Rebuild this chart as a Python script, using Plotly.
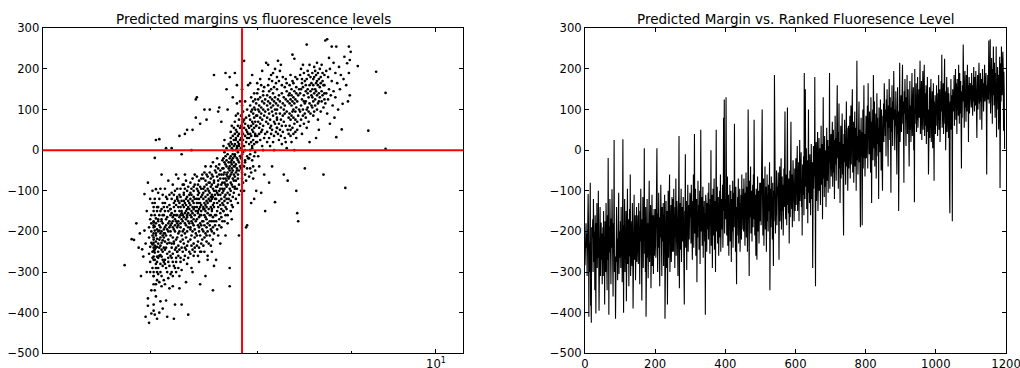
import plotly.graph_objects as go

# ---------------- data ----------------
# fluorescence level of each sample (log axis), listed in increasing order
fluor = [
    # ranks 0-49
    6.78, 6.84, 6.86, 6.88, 6.90, 6.91, 6.92, 6.93, 6.94, 6.95,
    6.95, 6.96, 6.96, 6.97, 6.97, 6.98, 6.98, 6.98, 6.99, 6.99,
    6.99, 6.99, 7.00, 7.00, 7.00, 7.00, 7.00, 7.01, 7.01, 7.01,
    7.01, 7.01, 7.01, 7.02, 7.02, 7.02, 7.02, 7.02, 7.02, 7.02,
    7.03, 7.03, 7.03, 7.03, 7.03, 7.03, 7.03, 7.03, 7.03, 7.03,
    # ranks 50-99
    7.03, 7.03, 7.03, 7.03, 7.03, 7.03, 7.03, 7.03, 7.03, 7.03,
    7.04, 7.04, 7.04, 7.04, 7.04, 7.04, 7.04, 7.04, 7.04, 7.04,
    7.04, 7.04, 7.05, 7.05, 7.05, 7.05, 7.05, 7.05, 7.05, 7.05,
    7.05, 7.05, 7.05, 7.05, 7.06, 7.06, 7.06, 7.06, 7.06, 7.06,
    7.06, 7.06, 7.06, 7.06, 7.07, 7.07, 7.07, 7.07, 7.07, 7.07,
    # ranks 100-149
    7.07, 7.07, 7.07, 7.07, 7.08, 7.08, 7.08, 7.08, 7.08, 7.08,
    7.08, 7.08, 7.08, 7.08, 7.09, 7.09, 7.09, 7.09, 7.09, 7.09,
    7.09, 7.09, 7.09, 7.09, 7.10, 7.10, 7.10, 7.10, 7.10, 7.10,
    7.10, 7.10, 7.10, 7.10, 7.11, 7.11, 7.11, 7.11, 7.11, 7.11,
    7.11, 7.11, 7.11, 7.11, 7.12, 7.12, 7.12, 7.12, 7.12, 7.12,
    # ranks 150-199
    7.12, 7.12, 7.13, 7.13, 7.13, 7.13, 7.13, 7.13, 7.13, 7.13,
    7.13, 7.13, 7.14, 7.14, 7.14, 7.14, 7.14, 7.14, 7.14, 7.14,
    7.15, 7.15, 7.15, 7.15, 7.15, 7.15, 7.15, 7.15, 7.16, 7.16,
    7.16, 7.16, 7.16, 7.16, 7.16, 7.16, 7.17, 7.17, 7.17, 7.17,
    7.17, 7.17, 7.17, 7.17, 7.18, 7.18, 7.18, 7.18, 7.18, 7.18,
    # ranks 200-249
    7.18, 7.18, 7.19, 7.19, 7.19, 7.19, 7.19, 7.19, 7.19, 7.19,
    7.19, 7.20, 7.20, 7.20, 7.20, 7.20, 7.20, 7.20, 7.20, 7.20,
    7.21, 7.21, 7.21, 7.21, 7.21, 7.21, 7.21, 7.21, 7.21, 7.22,
    7.22, 7.22, 7.22, 7.22, 7.22, 7.22, 7.22, 7.22, 7.23, 7.23,
    7.23, 7.23, 7.23, 7.23, 7.23, 7.23, 7.23, 7.24, 7.24, 7.24,
    # ranks 250-299
    7.24, 7.24, 7.24, 7.24, 7.24, 7.24, 7.25, 7.25, 7.25, 7.25,
    7.25, 7.25, 7.25, 7.25, 7.25, 7.26, 7.26, 7.26, 7.26, 7.26,
    7.26, 7.26, 7.26, 7.26, 7.27, 7.27, 7.27, 7.27, 7.27, 7.27,
    7.27, 7.27, 7.27, 7.28, 7.28, 7.28, 7.28, 7.28, 7.28, 7.28,
    7.28, 7.28, 7.29, 7.29, 7.29, 7.29, 7.29, 7.29, 7.29, 7.30,
    # ranks 300-349
    7.30, 7.30, 7.30, 7.30, 7.30, 7.30, 7.30, 7.30, 7.31, 7.31,
    7.31, 7.31, 7.31, 7.31, 7.31, 7.31, 7.31, 7.32, 7.32, 7.32,
    7.32, 7.32, 7.32, 7.32, 7.32, 7.32, 7.33, 7.33, 7.33, 7.33,
    7.33, 7.33, 7.33, 7.33, 7.33, 7.34, 7.34, 7.34, 7.34, 7.34,
    7.34, 7.34, 7.34, 7.34, 7.35, 7.35, 7.35, 7.35, 7.35, 7.36,
    # ranks 350-399
    7.36, 7.36, 7.36, 7.36, 7.36, 7.36, 7.36, 7.36, 7.37, 7.37,
    7.37, 7.37, 7.37, 7.37, 7.37, 7.37, 7.37, 7.38, 7.38, 7.38,
    7.38, 7.38, 7.38, 7.38, 7.38, 7.38, 7.39, 7.39, 7.39, 7.39,
    7.39, 7.39, 7.39, 7.39, 7.39, 7.40, 7.40, 7.40, 7.40, 7.40,
    7.40, 7.40, 7.40, 7.40, 7.41, 7.41, 7.41, 7.41, 7.41, 7.42,
    # ranks 400-449
    7.42, 7.42, 7.42, 7.42, 7.42, 7.42, 7.42, 7.42, 7.43, 7.43,
    7.43, 7.43, 7.43, 7.43, 7.43, 7.43, 7.43, 7.44, 7.44, 7.44,
    7.44, 7.44, 7.44, 7.44, 7.44, 7.44, 7.45, 7.45, 7.45, 7.45,
    7.45, 7.45, 7.45, 7.45, 7.45, 7.46, 7.46, 7.46, 7.46, 7.46,
    7.46, 7.46, 7.46, 7.46, 7.47, 7.47, 7.47, 7.47, 7.47, 7.48,
    # ranks 450-499
    7.48, 7.48, 7.48, 7.48, 7.48, 7.48, 7.48, 7.48, 7.49, 7.49,
    7.49, 7.49, 7.49, 7.49, 7.49, 7.49, 7.49, 7.50, 7.50, 7.50,
    7.50, 7.50, 7.50, 7.50, 7.50, 7.50, 7.51, 7.51, 7.51, 7.51,
    7.51, 7.51, 7.51, 7.51, 7.51, 7.52, 7.52, 7.52, 7.52, 7.52,
    7.52, 7.52, 7.52, 7.52, 7.53, 7.53, 7.53, 7.53, 7.53, 7.54,
    # ranks 500-549
    7.54, 7.54, 7.54, 7.54, 7.54, 7.54, 7.54, 7.54, 7.55, 7.55,
    7.55, 7.55, 7.55, 7.55, 7.55, 7.55, 7.55, 7.56, 7.56, 7.56,
    7.56, 7.56, 7.56, 7.56, 7.56, 7.56, 7.57, 7.57, 7.57, 7.57,
    7.57, 7.57, 7.57, 7.57, 7.57, 7.58, 7.58, 7.58, 7.58, 7.58,
    7.58, 7.58, 7.58, 7.58, 7.59, 7.59, 7.59, 7.59, 7.59, 7.60,
    # ranks 550-599
    7.60, 7.60, 7.60, 7.60, 7.60, 7.60, 7.60, 7.61, 7.61, 7.61,
    7.61, 7.61, 7.61, 7.61, 7.62, 7.62, 7.62, 7.62, 7.62, 7.62,
    7.62, 7.63, 7.63, 7.63, 7.63, 7.63, 7.63, 7.63, 7.64, 7.64,
    7.64, 7.64, 7.64, 7.64, 7.64, 7.65, 7.65, 7.65, 7.65, 7.65,
    7.65, 7.65, 7.66, 7.66, 7.66, 7.66, 7.66, 7.66, 7.66, 7.67,
    # ranks 600-649
    7.67, 7.67, 7.67, 7.67, 7.67, 7.67, 7.67, 7.67, 7.68, 7.68,
    7.68, 7.68, 7.68, 7.68, 7.68, 7.68, 7.68, 7.69, 7.69, 7.69,
    7.69, 7.69, 7.69, 7.69, 7.69, 7.69, 7.70, 7.70, 7.70, 7.70,
    7.70, 7.70, 7.70, 7.70, 7.70, 7.71, 7.71, 7.71, 7.71, 7.71,
    7.71, 7.71, 7.71, 7.71, 7.72, 7.72, 7.72, 7.72, 7.72, 7.73,
    # ranks 650-699
    7.73, 7.73, 7.73, 7.73, 7.73, 7.73, 7.73, 7.73, 7.73, 7.74,
    7.74, 7.74, 7.74, 7.74, 7.74, 7.74, 7.74, 7.74, 7.74, 7.75,
    7.75, 7.75, 7.75, 7.75, 7.75, 7.75, 7.75, 7.75, 7.75, 7.76,
    7.76, 7.76, 7.76, 7.76, 7.76, 7.76, 7.76, 7.76, 7.76, 7.77,
    7.77, 7.77, 7.77, 7.77, 7.77, 7.77, 7.77, 7.78, 7.78, 7.78,
    # ranks 700-749
    7.78, 7.78, 7.78, 7.78, 7.78, 7.78, 7.78, 7.78, 7.79, 7.79,
    7.79, 7.79, 7.79, 7.79, 7.79, 7.79, 7.79, 7.80, 7.80, 7.80,
    7.80, 7.80, 7.80, 7.80, 7.80, 7.80, 7.81, 7.81, 7.81, 7.81,
    7.81, 7.81, 7.81, 7.81, 7.81, 7.82, 7.82, 7.82, 7.82, 7.82,
    7.82, 7.82, 7.82, 7.82, 7.83, 7.83, 7.83, 7.83, 7.83, 7.84,
    # ranks 750-799
    7.84, 7.84, 7.84, 7.84, 7.84, 7.84, 7.85, 7.85, 7.85, 7.85,
    7.85, 7.85, 7.85, 7.85, 7.86, 7.86, 7.86, 7.86, 7.86, 7.86,
    7.87, 7.87, 7.87, 7.87, 7.87, 7.87, 7.88, 7.88, 7.88, 7.88,
    7.88, 7.88, 7.88, 7.89, 7.89, 7.89, 7.89, 7.89, 7.90, 7.90,
    7.90, 7.90, 7.90, 7.90, 7.91, 7.91, 7.91, 7.91, 7.92, 7.92,
    # ranks 800-849
    7.92, 7.92, 7.92, 7.92, 7.93, 7.93, 7.93, 7.93, 7.93, 7.93,
    7.93, 7.94, 7.94, 7.94, 7.94, 7.94, 7.94, 7.94, 7.95, 7.95,
    7.95, 7.95, 7.95, 7.95, 7.95, 7.96, 7.96, 7.96, 7.96, 7.96,
    7.96, 7.96, 7.97, 7.97, 7.97, 7.97, 7.97, 7.97, 7.97, 7.98,
    7.98, 7.98, 7.98, 7.98, 7.98, 7.98, 7.99, 7.99, 7.99, 7.99,
    # ranks 850-899
    7.99, 7.99, 8.00, 8.00, 8.00, 8.00, 8.00, 8.01, 8.01, 8.01,
    8.01, 8.01, 8.02, 8.02, 8.02, 8.02, 8.02, 8.03, 8.03, 8.03,
    8.03, 8.03, 8.04, 8.04, 8.04, 8.04, 8.04, 8.05, 8.05, 8.05,
    8.05, 8.05, 8.06, 8.06, 8.06, 8.06, 8.06, 8.07, 8.07, 8.07,
    8.07, 8.07, 8.08, 8.08, 8.08, 8.08, 8.09, 8.09, 8.10, 8.10,
    # ranks 900-949
    8.10, 8.10, 8.10, 8.11, 8.11, 8.11, 8.11, 8.11, 8.12, 8.12,
    8.12, 8.12, 8.12, 8.13, 8.13, 8.13, 8.13, 8.13, 8.14, 8.14,
    8.14, 8.14, 8.14, 8.15, 8.15, 8.15, 8.15, 8.15, 8.16, 8.16,
    8.16, 8.16, 8.16, 8.17, 8.17, 8.17, 8.17, 8.17, 8.18, 8.18,
    8.18, 8.18, 8.18, 8.19, 8.19, 8.19, 8.19, 8.20, 8.20, 8.20,
    # ranks 950-999
    8.20, 8.20, 8.20, 8.20, 8.21, 8.21, 8.21, 8.21, 8.22, 8.22,
    8.22, 8.22, 8.23, 8.23, 8.23, 8.23, 8.24, 8.24, 8.24, 8.24,
    8.25, 8.25, 8.25, 8.25, 8.26, 8.26, 8.26, 8.26, 8.27, 8.27,
    8.27, 8.27, 8.28, 8.28, 8.28, 8.28, 8.29, 8.29, 8.29, 8.29,
    8.30, 8.30, 8.30, 8.30, 8.31, 8.31, 8.31, 8.32, 8.32, 8.32,
    # ranks 1000-1049
    8.33, 8.33, 8.33, 8.33, 8.33, 8.34, 8.34, 8.34, 8.34, 8.34,
    8.35, 8.35, 8.35, 8.35, 8.35, 8.36, 8.36, 8.36, 8.36, 8.36,
    8.37, 8.37, 8.37, 8.37, 8.37, 8.38, 8.38, 8.38, 8.38, 8.38,
    8.39, 8.39, 8.39, 8.39, 8.39, 8.40, 8.40, 8.40, 8.40, 8.40,
    8.41, 8.41, 8.41, 8.41, 8.41, 8.42, 8.42, 8.42, 8.43, 8.43,
    # ranks 1050-1099
    8.44, 8.44, 8.44, 8.44, 8.45, 8.45, 8.45, 8.45, 8.46, 8.46,
    8.46, 8.46, 8.47, 8.47, 8.47, 8.47, 8.48, 8.48, 8.48, 8.48,
    8.49, 8.49, 8.49, 8.49, 8.50, 8.50, 8.50, 8.50, 8.51, 8.51,
    8.51, 8.51, 8.52, 8.52, 8.52, 8.52, 8.53, 8.53, 8.53, 8.53,
    8.54, 8.54, 8.54, 8.54, 8.55, 8.55, 8.55, 8.56, 8.56, 8.56,
    # ranks 1100-1149
    8.57, 8.57, 8.57, 8.57, 8.58, 8.58, 8.58, 8.58, 8.59, 8.59,
    8.59, 8.59, 8.60, 8.60, 8.60, 8.60, 8.61, 8.61, 8.61, 8.61,
    8.62, 8.62, 8.62, 8.62, 8.63, 8.63, 8.63, 8.63, 8.64, 8.64,
    8.64, 8.64, 8.65, 8.65, 8.65, 8.66, 8.66, 8.66, 8.67, 8.67,
    8.67, 8.68, 8.68, 8.68, 8.69, 8.69, 8.69, 8.70, 8.70, 8.70,
    # ranks 1150-1196
    8.70, 8.71, 8.71, 8.72, 8.72, 8.73, 8.73, 8.74, 8.74, 8.75,
    8.75, 8.76, 8.76, 8.77, 8.78, 8.78, 8.79, 8.80, 8.80, 8.81,
    8.82, 8.82, 8.83, 8.83, 8.84, 8.85, 8.86, 8.87, 8.88, 8.89,
    8.90, 8.91, 8.92, 8.93, 8.94, 8.95, 8.96, 8.97, 8.97, 8.98,
    8.98, 8.99, 9.07, 9.19, 9.28, 9.39, 9.39,
]

# predicted margin of each sample, same order as fluor
margin = [
    # ranks 0-49
    -283, -219, -221, -180, -240, -205, -310, -244, -262, -108,
    -198, -410, -230, -300, -150, -80, -383, -365, -425, -190,
    -255, -215, -170, -300, -120, -238, -275, -200, -345, -160,
    -228, -402, -180, -250, -130, -290, -210, -265, -100, -232,
    -395, -185, -248, -140, -310, -220, -178, -270, -205, -330,
    # ranks 50-99
    -240, -190, -310, -150, -262, -215, -380, -175, -228, -300,
    -130, -245, -198, -345, -160, -270, -19, -235, -405, -188,
    -252, -120, -290, -210, -330, -168, -240, -96, -280, -205,
    -360, -180, -225, 25, -300, -150, -262, -415, -195, -238,
    -140, -275, -218, -320, -170, -250, -105, -305, -200, -265,
    # ranks 100-149
    -230, -175, -290, -140, -260, -198, -325, -160, 27, -240,
    -400, -185, -220, -120, -300, -205, -258, -150, -372, -190,
    -235, -95, -280, -215, -170, -335, -228, -145, -262, -60,
    -310, -200, -245, -175, -285, -130, -222, -390, -180, -250,
    -110, -270, -210, -160, -320, -195, -240, -140, -275, -205,
    # ranks 150-199
    -215, -160, -280, -130, -245, -190, -330, -150, -225, -95,
    -270, -205, -370, -170, -240, -115, -290, -185, -210, 5,
    -255, -165, -300, -140, -410, -195, -230, -120, -265, -180,
    -315, -150, -220, -75, -275, -200, -250, -135, -340, -175,
    -228, -110, -285, -190, -160, -305, -210, -145, -260, -185,
    # ranks 200-249
    -200, -145, -265, -120, -230, 5, -180, -300, -155, -240,
    -105, -275, -190, -335, -165, -215, -85, -255, -175, -310,
    -140, -225, -195, -130, -285, -160, -230, -110, -415, -170,
    -245, -125, -290, -200, -150, -380, -185, -100, -265, -175,
    -220, -60, -300, -160, -240, -135, -275, -190, -115, -250,
    # ranks 250-299
    -180, -120, -250, -95, -215, -160, -290, -140, -205, -70,
    -260, -175, -125, -235, -185, -310, -150, -110, 35, -340,
    -200, -130, -245, -165, -95, -275, -180, -140, -225, -160,
    -115, -265, -190, -380, -150, -210, -10, -240, -170, -125,
    -295, -155, -200, -85, -250, -175, -135, -220, -160, -105,
    # ranks 300-349
    -165, -110, -230, -85, -195, -140, -270, -125, -180, -60,
    -240, -155, 40, -205, -130, -95, -260, -170, -120, -325,
    -150, -215, -75, -185, -135, -245, -165, -100, -280, -145,
    50, -200, -160, -115, -235, -175, -90, -265, -140, -190,
    -125, -225, -155, -405, -110, -180, -145, -250, -130, -195,
    # ranks 350-399
    -160, -105, -220, -80, -190, -135, -255, -120, -175, 0,
    -235, -150, -110, -290, -165, -95, -210, -140, -70, -245,
    -180, -125, -300, -155, 50, -200, -130, -90, -230, -170,
    -115, -260, -145, -185, -100, -215, -60, -250, -160, -120,
    -195, -140, -85, -240, -175, 80, -150, 125, -205, -130,
    # ranks 400-449
    -120, -170, 130, -95, -210, -140, -65, -235, -155, -110,
    -260, -130, -185, -85, -225, -150, -100, -275, -165, -120,
    -200, -75, -240, -145, -105, -190, 65, -160, -130, -250,
    -90, -180, -330, -140, -210, -115, -160, -70, -230, -150,
    -185, -95, -250, -135, -175, -110, -220, -60, -195, -145,
    # ranks 450-499
    -140, -95, -200, -70, -175, -120, -235, -105, -160, -55,
    -215, -130, -90, -250, -145, 100, -185, -115, -310, -75,
    -165, -135, -40, -205, -150, -100, -225, -125, -85, -190,
    -60, -170, 75, -140, -210, -110, -155, -260, -95, -180,
    -270, -130, -65, -200, -145, -100, -230, -120, -80, -175,
    # ranks 500-549
    -125, -80, -185, -55, -160, 100, -105, -210, -140, -70,
    -235, -115, -160, -40, -195, -125, -90, -250, -145, -60,
    -175, -110, -200, -85, -150, -120, -30, -345, -135, -95,
    -190, -65, -165, -115, -220, -80, -140, -285, -100, -175,
    185, -130, -75, -205, -110, -160, -50, -185, -120, -90,
    # ranks 550-599
    -100, -55, -160, -270, -120, -40, -175, -90, -130, -20,
    -195, -105, -65, -150, -85, -210, -110, -45, -140, -75,
    95, -125, -170, -60, -100, -185, -35, 105, -135, -95,
    -155, -70, -230, -110, -50, -165, -85, 70, -120, -145,
    -60, -190, -95, -25, -130, -80, -175, -105, -45, -150,
    # ranks 600-649
    -70, -20, -135, -45, -100, 10, -150, -60, -115, -30,
    -175, -80, 25, -125, -55, -95, -5, -140, -70, -210,
    -35, -110, -85, -15, -160, 190, -60, -120, 150, -40,
    -90, 5, -145, -75, -25, -180, -55, 100, -105, -65,
    -130, -10, -85, -160, -45, 15, -120, -70, -30, -290,
    # ranks 650-699
    -40, 10, -95, -20, -65, 180, -110, -335, -50, 20,
    -125, -30, -80, 45, -150, -15, -60, 30, -100, -45,
    5, -135, -25, 60, -85, -55, 15, -170, -35, 130,
    -70, -10, -115, 35, -50, -90, 0, -140, -20, 55,
    -75, -40, 25, -105, -60, 10, -30, 190, -95, -15,
    # ranks 700-749
    -15, 40, -65, 15, -40, 70, -90, -10, 50, -55,
    25, -120, 0, 85, -35, 30, -75, 10, -50, 160,
    -20, 45, -95, 5, 115, -45, 20, -130, -5, 60,
    -70, 35, -25, 90, -60, 15, -110, -210, 40, -30,
    75, -50, 10, -85, 25, 120, -40, 55, -15, -100,
    # ranks 750-799
    5, 60, -45, 30, -20, 85, -70, 15, 110, -35,
    45, -10, 150, -55, 25, 70, -80, 40, -5, 95,
    -40, 55, 10, -100, 75, 220, -25, 35, -60, 65,
    0, 120, -30, 50, -75, -190, 20, 80, -15, 45,
    -185, 30, 100, -45, 60, 160, -20, 40, -65, 15,
    # ranks 800-849
    30, 85, -20, 55, 0, 110, -45, 165, 40, 75,
    -10, 95, 20, 60, -55, 130, 35, -130, 70, 10,
    100, -25, 185, 50, 5, 120, -40, 65, 25, 90,
    -70, 45, 140, 15, 80, -15, 55, -120, 105, 35,
    70, -5, 125, 40, -50, 100, 20, 60, -100, 85,
    # ranks 850-899
    60, 115, 20, 165, 85, 140, 35, 100, -15, 125,
    70, 150, 40, 95, -40, 110, 55, 175, 80, 25,
    130, 65, -105, 105, 45, 160, 90, 10, 120, 75,
    195, 50, 135, 0, 100, 60, 145, 30, 115, -60,
    85, 155, 40, 95, -150, 125, 70, 215, 20, 110,
    # ranks 900-949
    80, 135, 45, 160, 100, 210, 65, 120, 30, -80,
    145, 90, 175, 55, 115, 10, 130, 75, 185, 40,
    105, 150, 60, 125, -40, 95, 170, 50, 110, 20,
    140, 85, 190, 35, 120, 70, 155, 0, 100, -128,
    200, 65, 130, 90, 165, 45, 115, 75, 180, 55,
    # ranks 950-999
    100, 55, 150, 80, 125, 220, 40, 110, 65, 170,
    25, 135, 90, 195, 50, 120, 75, 210, 35, 105,
    140, 60, 160, 15, 115, 85, 180, 45, 100, -60,
    130, 70, 155, 30, 110, 90, 175, 20, 125, 60,
    145, 5, 95, 165, 50, -75, 120, 80, 135, 40,
    # ranks 1000-1049
    115, 60, 160, 90, 140, 35, 125, 75, 185, 50,
    110, 150, 20, 135, 85, 170, 95, 235, 55, 120,
    80, 165, 40, 130, 100, 225, 65, 145, 0, 115,
    75, 180, 45, 125, 95, 155, 30, 140, 105, -100,
    -155, 120, 70, 175, 50, 135, 85, -175, 150, 100,
    # ranks 1050-1099
    140, 95, 185, 60, 150, 110, 200, 75, 165, 125,
    40, 175, 100, 155, 85, 210, 120, 65, 190, 135,
    90, 170, 115, -45, 145, 80, 160, 120, 260, 100,
    175, 55, 140, 195, 105, 150, 70, 185, 130, 95,
    210, 115, 160, 20, 145, 180, 90, 135, 165, 110,
    # ranks 1100-1149
    150, 105, 190, 130, 175, 85, 160, 120, 205, 140,
    95, 180, 150, 110, 195, 125, 165, 30, 145, 185,
    100, 170, 135, 215, 115, 160, 75, 190, 140, 120,
    175, 50, 155, 200, 130, 165, 95, 180, 145, 210,
    120, 170, 135, 190, 105, -60, 160, 140, 185, 125,
    # ranks 1150-1196
    160, 270, 115, 195, 140, 273, 90, 180, 125, 227,
    150, 65, 200, 135, 255, 170, 110, 215, 145, 80,
    190, 130, 255, 32, 165, 100, 205, 150, 185, 51,
    114, 175, 230, -93, 160, 214, 120, 255, 190, 135,
    222, 242, 207, 48, 193, 141, 3,
]

fluor_split = 7.85      # red vertical reference line (fluorescence)
margin_split = 0        # red horizontal reference line (margin)

margin_ticks = [-500, -400, -300, -200, -100, 0, 100, 200, 300]
rank_ticks = [0, 200, 400, 600, 800, 1000, 1200]
log_major_vals = [10]
log_major_text = ["10<sup>1</sup>"]
log_minor_vals = [7, 8, 9]

left_title = "Predicted margins vs fluorescence levels"
right_title = "Predicted Margin vs. Ranked Fluoresence Level"

# ---------------- derived: margins ranked by fluorescence ----------------
n = min(len(fluor), len(margin))
fluor = fluor[:n]
margin = margin[:n]
order = sorted(range(n), key=lambda i: fluor[i])
ranked_margin = [margin[i] for i in order]
ranks = list(range(n))

# ---------------- figure ----------------
W, H = 1020, 368
L1, R1 = 42.7, 463.3
L2, R2 = 585.0, 1006.0
TOP, BOT = 28.3, 353.3
xd1 = [L1 / W, R1 / W]
xd2 = [L2 / W, R2 / W]
yd = [1 - BOT / H, 1 - TOP / H]

FONT = "DejaVu Sans"
TICKFONT = dict(family=FONT, size=11.6, color="black")

fig = go.Figure()
fig.add_trace(go.Scatter(
    x=fluor, y=margin, mode="markers",
    marker=dict(color="black", size=2.7, line=dict(width=0)),
    xaxis="x", yaxis="y", showlegend=False, hoverinfo="skip",
))
fig.add_trace(go.Scatter(
    x=ranks, y=ranked_margin, mode="lines",
    line=dict(color="black", width=1.1),
    xaxis="x2", yaxis="y2", showlegend=False, hoverinfo="skip",
))

common_axis = dict(
    showgrid=False, zeroline=False, showline=True, linecolor="black",
    linewidth=1, mirror="ticks", ticks="inside", ticklen=4, tickwidth=1,
    tickcolor="black", tickfont=TICKFONT, automargin=False,
    ticklabeloverflow="allow",
)

fig.update_layout(
    width=W, height=H,
    margin=dict(l=0, r=0, t=0, b=0),
    paper_bgcolor="white", plot_bgcolor="white",
    font=dict(family=FONT, color="black"),
    xaxis=dict(
        common_axis, domain=xd1, anchor="y", type="log",
        range=[0.78683, 1.01480],
        tickmode="array", tickvals=log_major_vals, ticktext=log_major_text,
        minor=dict(tickmode="array", tickvals=log_minor_vals, ticks="inside",
                   ticklen=2, tickwidth=1, tickcolor="black", showgrid=False),
    ),
    yaxis=dict(
        common_axis, domain=yd, anchor="x", range=[-500, 300],
        tickmode="array", tickvals=margin_ticks,
    ),
    xaxis2=dict(
        common_axis, domain=xd2, anchor="y2", range=[0, 1200],
        tickmode="array", tickvals=rank_ticks,
    ),
    yaxis2=dict(
        common_axis, domain=yd, anchor="x2", range=[-500, 300],
        tickmode="array", tickvals=margin_ticks,
    ),
    shapes=[
        dict(type="line", xref="x", yref="y domain", x0=fluor_split, x1=fluor_split,
             y0=0, y1=1, line=dict(color="#ff0000", width=2), layer="above"),
        dict(type="line", xref="x domain", yref="y", x0=0, x1=1,
             y0=margin_split, y1=margin_split, line=dict(color="#ff0000", width=2),
             layer="above"),
    ],
    annotations=[
        dict(text=left_title, xref="paper", yref="paper",
             x=(xd1[0] + xd1[1]) / 2, y=yd[1], xanchor="center", yanchor="bottom",
             yshift=-1, showarrow=False,
             font=dict(family=FONT, size=13.5, color="black")),
        dict(text=right_title, xref="paper", yref="paper",
             x=(xd2[0] + xd2[1]) / 2, y=yd[1], xanchor="center", yanchor="bottom",
             yshift=-1, showarrow=False,
             font=dict(family=FONT, size=13.5, color="black")),
    ],
)

# remove the browser's default 8px page margin so the figure fills the window
fig.write_html(
    "out.html",
    config={"displayModeBar": False, "staticPlot": True},
    post_script="document.body.style.margin='0';document.body.style.overflow='hidden';",
)
